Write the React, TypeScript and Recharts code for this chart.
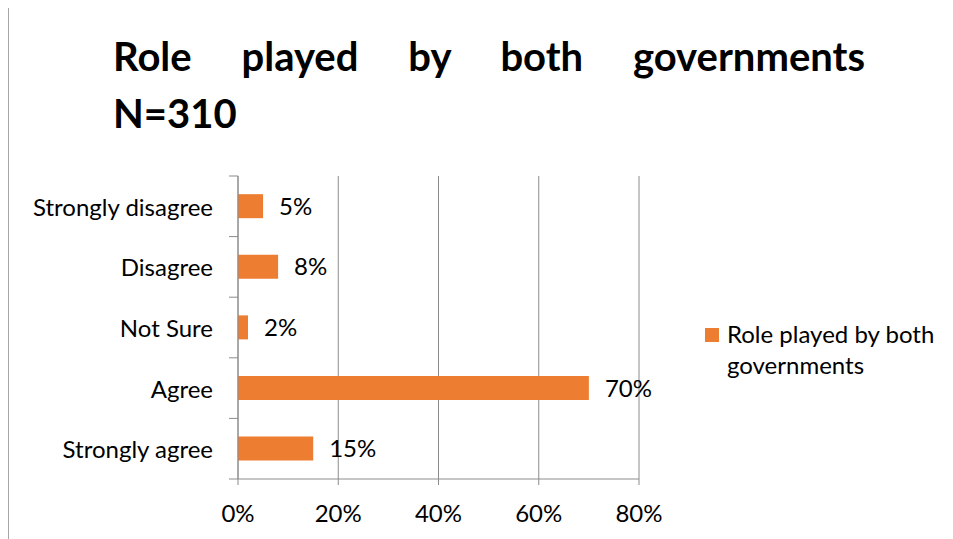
import React from 'react';
import {
  Bar,
  BarChart,
  CartesianGrid,
  LabelList,
  Legend,
  XAxis,
  YAxis,
} from 'recharts';

const categories = ['Strongly disagree', 'Disagree', 'Not Sure', 'Agree', 'Strongly agree'];
const shares = [5, 8, 2, 70, 15];
const xTicks = [0, 20, 40, 60, 80];
const seriesName = 'Role played by both governments';

const data = categories.map((name, i) => ({ name, value: shares[i] }));

const FONT = 'Lato, "Open Sans", sans-serif';
const GRAY = '#8c8c8c';
const ORANGE = '#ED7D31';
const TICK_MARGIN = 25;

// category label plus short tick marks on the band boundaries (Excel style)
const CategoryTick = (props: any) => {
  const { x, y, payload, index, visibleTicksCount } = props;
  const half = payload.offset || 0;
  const axisX = x + TICK_MARGIN;
  const isLast = index === visibleTicksCount - 1;
  return (
    <g>
      <line x1={axisX - 9} x2={axisX} y1={y - half} y2={y - half} stroke={GRAY} />
      {isLast && <line x1={axisX - 9} x2={axisX} y1={y + half} y2={y + half} stroke={GRAY} />}
      <text x={x} y={y} textAnchor="end" dominantBaseline="central" fill="#000" fontSize={24} fontFamily={FONT}>
        {payload.value}
      </text>
    </g>
  );
};

const LegendBox = () => (
  <div style={{ display: 'flex', alignItems: 'flex-start', fontFamily: FONT, fontSize: 24, color: '#000' }}>
    <div style={{ width: 14, height: 14, background: ORANGE, marginTop: 10, marginRight: 8, flexShrink: 0 }} />
    <div style={{ width: 230, lineHeight: '31px' }}>{seriesName}</div>
  </div>
);

export default function App() {
  return (
    <div
      style={{
        position: 'relative',
        top: -3,
        width: 950,
        height: 540,
        border: '1px solid #a6a6a6',
        boxSizing: 'border-box',
        fontFamily: FONT,
      }}
    >
      <style>{'body{overflow:hidden}'}</style>
      <div
        style={{
          position: 'absolute',
          left: 104,
          top: 22,
          width: 752,
          fontSize: 40,
          fontWeight: 700,
          lineHeight: '57px',
          color: '#000',
        }}
      >
        <div style={{ textAlign: 'justify', textAlignLast: 'justify' }}>Role played by both governments</div>
        <div>N=310</div>
      </div>
      <div style={{ position: 'absolute', left: 0, top: 0 }}>
        <BarChart
          width={940}
          height={532}
          data={data}
          layout="vertical"
          barCategoryGap="30%"
          margin={{ top: 170, right: 310, bottom: 19, left: 0 }}
        >
          <CartesianGrid horizontal={false} stroke={GRAY} strokeWidth={1} />
          <XAxis
            type="number"
            domain={[0, 80]}
            ticks={xTicks}
            tickFormatter={(v) => `${v}%`}
            height={40}
            tickSize={6}
            tickMargin={20}
            axisLine={{ stroke: GRAY }}
            tickLine={{ stroke: GRAY }}
            tick={{ fill: '#000', fontSize: 24, fontFamily: FONT }}
          />
          <YAxis
            type="category"
            dataKey="name"
            width={229}
            axisLine={{ stroke: GRAY }}
            tickLine={false}
            tickSize={0}
            tickMargin={TICK_MARGIN}
            interval={0}
            tick={<CategoryTick />}
          />
          <Legend
            align="center"
            verticalAlign="middle"
            wrapperStyle={{ left: 696, top: 312, width: 255 }}
            content={() => <LegendBox />}
          />
          <Bar dataKey="value" name={seriesName} fill={ORANGE} isAnimationActive={false}>
            <LabelList
              dataKey="value"
              position="right"
              offset={16}
              formatter={(v: number) => `${v}%`}
              style={{ fill: '#000', fontSize: 24, fontFamily: FONT }}
            />
          </Bar>
        </BarChart>
      </div>
    </div>
  );
}
